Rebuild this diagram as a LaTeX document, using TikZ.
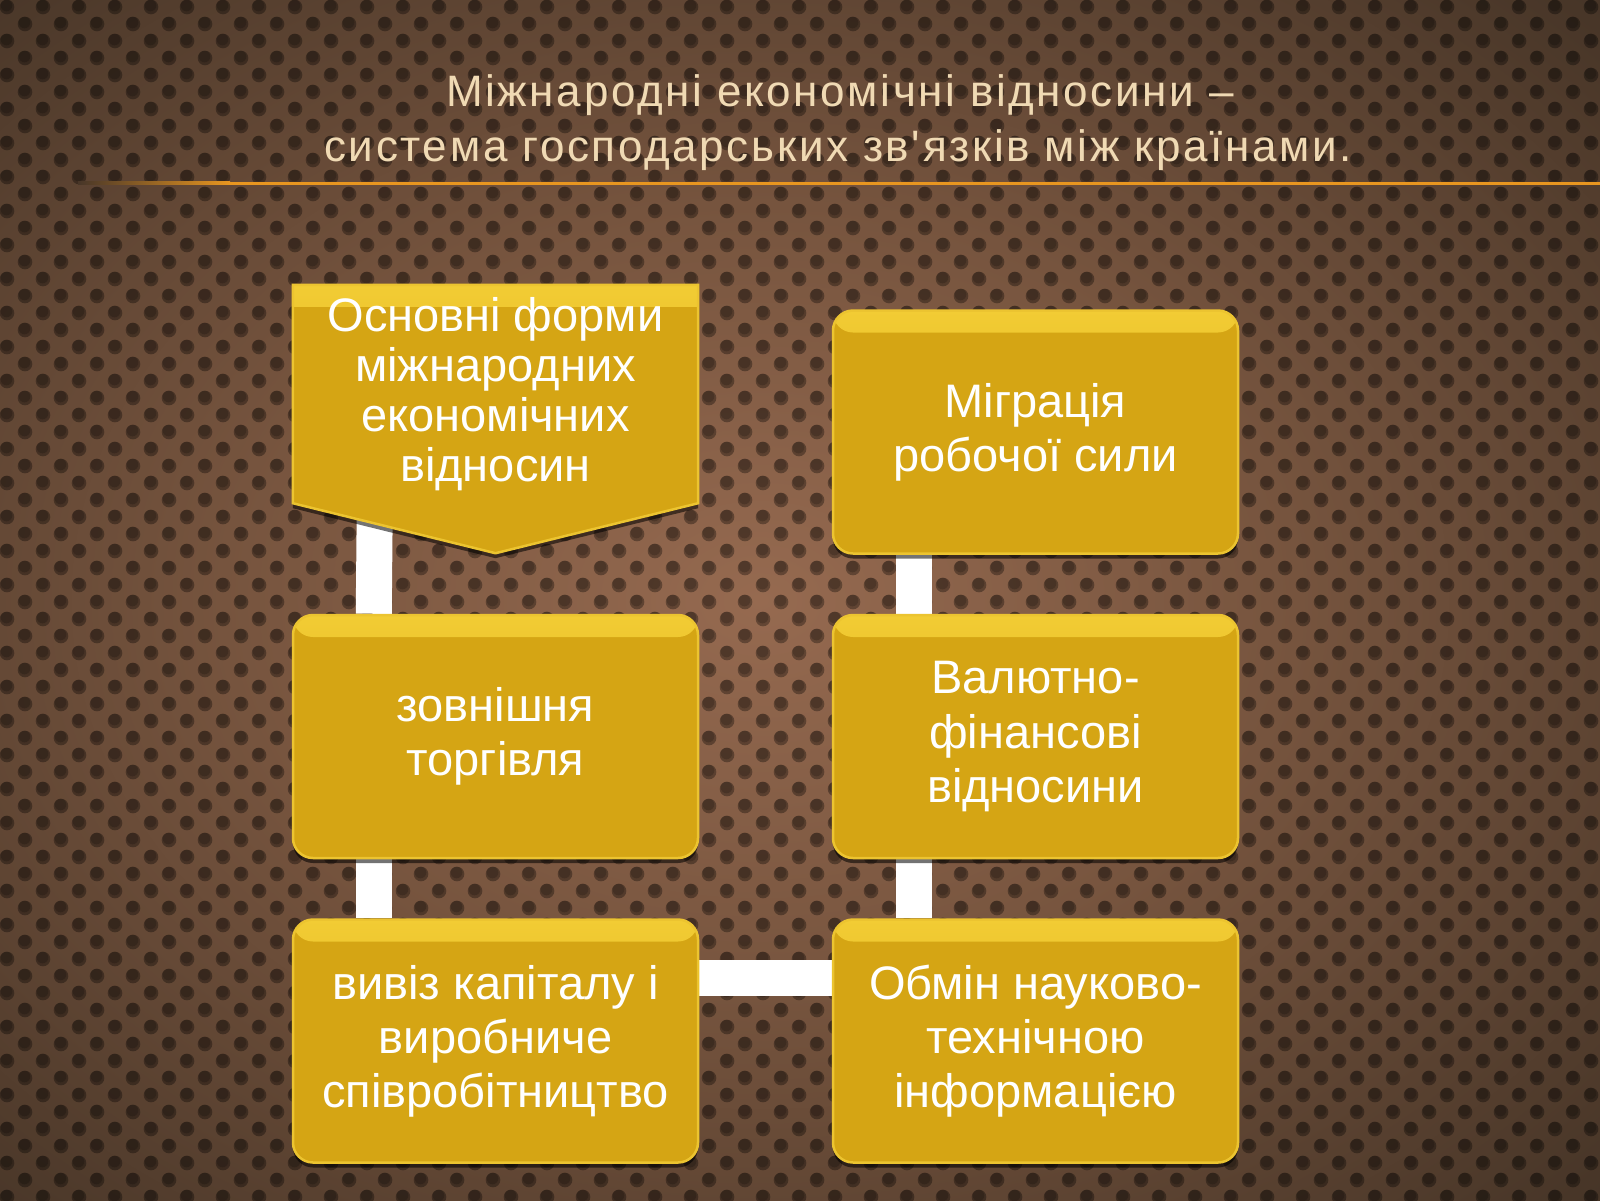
\documentclass[tikz,border=0pt]{standalone}
\usepackage{fontspec}
\usetikzlibrary{shadows,calc}
\newfontfamily\boxfont{Liberation Sans}
\newfontfamily\titlefont[LetterSpace=6]{Liberation Sans}
\definecolor{gold}{RGB}{213,165,20}
\definecolor{goldlight}{RGB}{242,204,52}
\definecolor{goldrim}{RGB}{236,196,48}
\definecolor{titlecol}{RGB}{240,218,180}
\definecolor{orangeline}{RGB}{232,150,32}
\definecolor{bgin}{RGB}{150,106,80}
\definecolor{bgmid}{RGB}{118,84,62}
\definecolor{bgmidb}{RGB}{72,54,40}
\definecolor{bgout}{RGB}{42,32,24}
\pgfdeclareradialshading{bgshade}{\pgfpoint{0bp}{0bp}}{color(0bp)=(bgin); color(16bp)=(bgmid); color(34bp)=(bgmidb); color(50bp)=(bgout); color(100bp)=(bgout)}
\pgfdeclarelayer{back}
\pgfdeclarelayer{conn}
\pgfdeclarelayer{shapes}
\pgfsetlayers{back,conn,shapes,main}
\tikzset{
  goldshape/.style={fill=gold, draw=goldrim, line width=2.5pt,
    drop shadow={shadow xshift=0pt, shadow yshift=-5pt, opacity=0.55, fill=black},
    path picture={\shade[top color=goldlight, bottom color=gold]
      (path picture bounding box.north west) rectangle ([yshift=-22pt]path picture bounding box.north east);}},
  goldbox/.style={goldshape, rounded corners=20pt, minimum width=405pt, minimum height=243pt,
    text=white, align=center, inner sep=0pt, font=\boxfont\fontsize{47}{54}\selectfont},
  conn/.style={draw=white, line width=36pt},
  hole/.style={fill=black, fill opacity=0.33},
  holetop/.style={fill=black, fill opacity=0.18},
  titletext/.style={text=titlecol, anchor=base, inner sep=0pt, font=\titlefont\fontsize{44}{52}\selectfont},
}
\begin{document}
\begin{tikzpicture}[x=1pt,y=-1pt]
\useasboundingbox (0,0) rectangle (1600,1200);
\begin{pgfonlayer}{back}
  \shade[shading=bgshade] (-80,-20) rectangle (1600,1220);
  \foreach \r in {0,...,70} {
    \pgfmathsetmacro\yy{7+17*\r}
    \pgfmathsetmacro\xo{7+18*mod(\r,2)}
    \foreach \c in {0,...,44} {
      \fill[hole] (\xo+36*\c,\yy) circle (7.3pt);
      \fill[holetop] (\xo+36*\c-0.5,\yy-1.5) circle (5.8pt);
    }
  }
\end{pgfonlayer}
% title
\node[titletext] (t1) at (840,106) {Міжнародні економічні відносини –};
\node[titletext] (t2) at (838,161) {система господарських зв'язків між країнами.};
\shade[left color=bgmidb, right color=orangeline] (78,181.5) rectangle (230,184.5);
\fill[orangeline] (229,181.5) rectangle (1600,184.5);
% boxes
\node[text=white, align=center, inner sep=0pt, minimum width=405pt, minimum height=218pt,
  font=\boxfont\fontsize{47}{50}\selectfont] (n1) at (495.5,394)
  {Основні форми\\міжнародних\\економічних\\відносин};
\begin{pgfonlayer}{shapes}
  \path[goldshape] (n1.north west) -- (n1.north east) -- (n1.south east)
    -- ([yshift=-50pt]n1.south) -- (n1.south west) -- cycle;
\end{pgfonlayer}
\node[goldbox] (n2) at (1035.5,432) {Міграція\\робочої сили};
\node[goldbox] (n3) at (495.5,736.5) {зовнішня\\торгівля};
\node[goldbox] (n4) at (1035.5,736.5) {Валютно-\\фінансові\\відносини};
\node[goldbox] (n5) at (495.5,1041) {вивіз капіталу і\\виробниче\\співробітництво};
\node[goldbox] (n6) at (1035.5,1041) {Обмін науково-\\технічною\\інформацією};
% connectors
\begin{pgfonlayer}{conn}
  \draw[conn] ([xshift=82pt]n1.south west) -- ([xshift=82pt]n3.north west);
  \draw[conn] ([xshift=82pt]n3.south west) -- ([xshift=82pt]n5.north west);
  \draw[conn] ([xshift=82pt]n2.south west) -- ([xshift=82pt]n4.north west);
  \draw[conn] ([xshift=82pt]n4.south west) -- ([xshift=82pt]n6.north west);
  \draw[conn] ([yshift=-60pt]n5.north east) -- ([yshift=-60pt]n6.north west);
\end{pgfonlayer}
\end{tikzpicture}
\end{document}
